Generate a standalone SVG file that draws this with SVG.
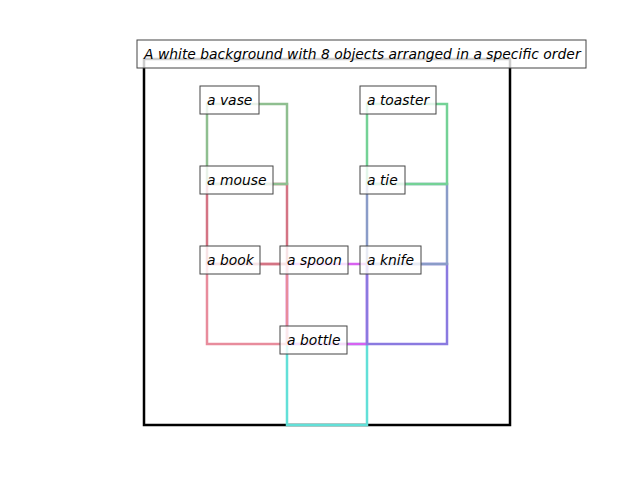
<svg xmlns="http://www.w3.org/2000/svg" width="640" height="480" viewBox="0 0 640 480">
<style>
.frame{fill:none;stroke:#000;stroke-width:2.5}
.bb{fill:none;stroke-width:2.5;stroke-linecap:square}
.lbl{fill:#fff;fill-opacity:0.8;stroke:#444;stroke-width:1}
.t{font-family:"DejaVu Sans",sans-serif;font-style:italic;font-size:13.89px;fill:#000}
</style>
<rect width="640" height="480" fill="#fff"/>
<rect class="frame" x="144" y="59" width="366" height="366"/>
<g id="connectors">
<rect id="box-bottle" class="bb" stroke="#62e0d8" x="287" y="344" width="80" height="81"/>
<rect id="box-spoon" class="bb" stroke="#d862f0" x="287" y="264" width="80" height="80"/>
<rect id="box-knife" class="bb" stroke="#8a7ae0" x="367" y="264" width="80" height="80"/>
<rect id="box-tie" class="bb" stroke="#8a9cc8" x="367" y="184" width="80" height="80"/>
<rect id="box-toaster" class="bb" stroke="#74d296" x="367" y="104" width="80" height="80"/>
<rect id="box-book" class="bb" stroke="#e88c9c" x="207" y="264" width="80" height="80"/>
<rect id="box-mouse" class="bb" stroke="#d47484" x="207" y="184" width="80" height="80"/>
<rect id="box-vase" class="bb" stroke="#8fbf90" x="207" y="104" width="80" height="80"/>
</g>
<g id="node-vase"><rect class="lbl" x="200" y="86" width="59" height="28"/><text class="t" x="207" y="104.5">a vase</text></g>
<g id="node-toaster"><rect class="lbl" x="360" y="86" width="76" height="28"/><text class="t" x="367" y="104.5">a toaster</text></g>
<g id="node-mouse"><rect class="lbl" x="200" y="166" width="73" height="28"/><text class="t" x="207" y="184.5">a mouse</text></g>
<g id="node-tie"><rect class="lbl" x="360" y="166" width="45" height="28"/><text class="t" x="367" y="184.5">a tie</text></g>
<g id="node-book"><rect class="lbl" x="200" y="246" width="60" height="28"/><text class="t" x="207" y="264.5">a book</text></g>
<g id="node-spoon"><rect class="lbl" x="280" y="246" width="68" height="28"/><text class="t" x="287" y="264.5">a spoon</text></g>
<g id="node-knife"><rect class="lbl" x="360" y="246" width="61" height="28"/><text class="t" x="367" y="264.5">a knife</text></g>
<g id="node-bottle"><rect class="lbl" x="280" y="326" width="67" height="28"/><text class="t" x="287" y="344.5">a bottle</text></g>
<g id="title"><rect class="lbl" x="137" y="40" width="449" height="28"/><text class="t" x="144" y="58.5">A white background with 8 objects arranged in a specific order</text></g>
</svg>
